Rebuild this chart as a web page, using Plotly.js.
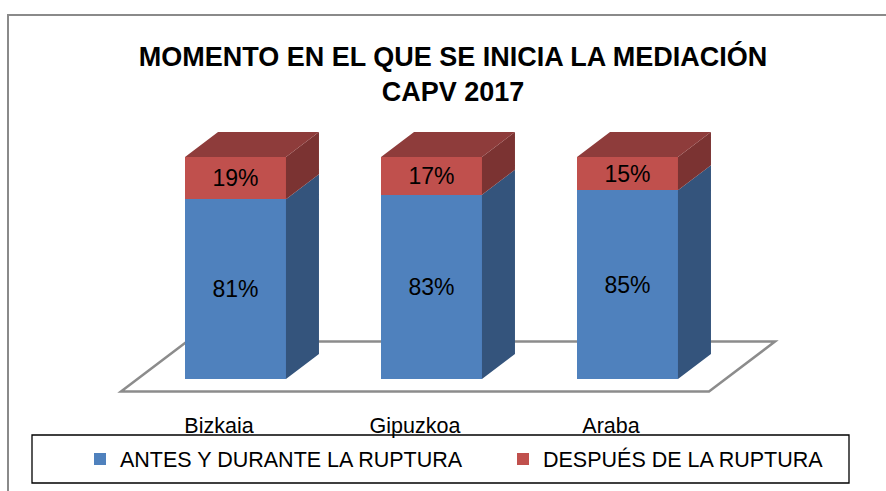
<!DOCTYPE html>
<html>
<head>
<meta charset="utf-8">
<script src="https://cdn.plot.ly/plotly-3.0.1.min.js"></script>
<style>html,body{margin:0;padding:0;background:#fff;}#chart{width:886px;height:491px;}</style>
</head>
<body>
<div id="chart"></div>
<script>
// ---- data ----
const categories = ['Bizkaia', 'Gipuzkoa', 'Araba'];
const seriesNames = ['ANTES Y DURANTE LA RUPTURA', 'DESPUÉS DE LA RUPTURA'];
const antes = [81, 83, 85];
const despues = [19, 17, 15];
const titleText = 'MOMENTO EN EL QUE SE INICIA LA MEDIACIÓN<br>CAPV 2017';

// ---- styling / geometry (pixels) ----
const W = 886, H = 491;
const M = {l: 110, r: 96, t: 120, b: 96, autoexpand: false};
const plotW = W - M.l - M.r, plotH = H - M.t - M.b;
const pxPerCat = 196, pxPerPct = 2.22;
const cat0Px = 235.5, basePx = 379;
const depthPx = {x: 33, y: 25};
const barW = 0.515;
const FONT = 'Liberation Sans, Arial, sans-serif';

const xRange = [(M.l - cat0Px) / pxPerCat, (W - M.r - cat0Px) / pxPerCat];
const yRange = [-(H - M.b - basePx) / pxPerPct, (basePx - M.t) / pxPerPct];
const dX = depthPx.x / pxPerCat, dY = depthPx.y / pxPerPct;

const xs = categories.map((_, i) => i);
const tops1 = antes.slice();
const tops2 = antes.map((v, i) => v + despues[i]);

function sideFaces(bottoms, tops) {
  const X = [], Y = [];
  xs.forEach((x, i) => {
    const r = x + barW / 2;
    X.push(r, r + dX, r + dX, r, r, null);
    Y.push(bottoms[i], bottoms[i] + dY, tops[i] + dY, tops[i], bottoms[i], null);
  });
  return {X, Y};
}
function topFaces(tops) {
  const X = [], Y = [];
  xs.forEach((x, i) => {
    const l = x - barW / 2, r = x + barW / 2;
    X.push(l, l + dX, r + dX, r, l, null);
    Y.push(tops[i], tops[i] + dY, tops[i] + dY, tops[i], tops[i], null);
  });
  return {X, Y};
}
function faceTrace(f, color) {
  return {type: 'scatter', mode: 'lines', x: f.X, y: f.Y, fill: 'toself', fillcolor: color,
          line: {width: 0, color: color}, hoverinfo: 'skip', showlegend: false};
}

const side1 = sideFaces(antes.map(() => 0), tops1);
const side2 = sideFaces(tops1, tops2);
const top2 = topFaces(tops2);

const traces = [
  {type: 'bar', name: seriesNames[0], x: xs, y: antes, width: barW, legendwidth: 378,
   marker: {color: '#4F81BD', line: {width: 0}},
   texttemplate: '%{y}%', textposition: 'inside', insidetextanchor: 'middle',
   textfont: {family: FONT, size: 23, color: '#000'}, hoverinfo: 'y'},
  {type: 'bar', name: seriesNames[1], x: xs, y: despues, width: barW,
   marker: {color: '#C0504D', line: {width: 0}},
   texttemplate: '%{y}%', textposition: 'inside', insidetextanchor: 'middle',
   textfont: {family: FONT, size: 23, color: '#000'}, hoverinfo: 'y'},
  faceTrace(side1, '#34547C'),
  faceTrace(side2, '#7B3332'),
  faceTrace(top2, '#8E3C3B')
];

// floor (3D base) from the axis extent and the depth vector
const fx0 = -0.5, fx1 = categories.length - 0.5;
const fz0 = -0.5, fz1 = 1.5;
const floorPath = 'M' + (fx0 + fz0 * dX) + ',' + (fz0 * dY) +
  ' L' + (fx1 + fz0 * dX) + ',' + (fz0 * dY) +
  ' L' + (fx1 + fz1 * dX) + ',' + (fz1 * dY) +
  ' L' + (fx0 + fz1 * dX) + ',' + (fz1 * dY) + ' Z';

function pxX(px) { return (px - M.l) / plotW; }
function pxY(py) { return (H - M.b - py) / plotH; }

const layout = {
  width: W, height: H,
  margin: M,
  paper_bgcolor: '#fff', plot_bgcolor: 'rgba(0,0,0,0)',
  barmode: 'stack',
  showlegend: true,
  title: {text: titleText, font: {family: FONT, size: 27, weight: 'bold', color: '#000'},
          xref: 'container', x: 453 / W, xanchor: 'center',
          yref: 'container', y: 1 - 66 / H, yanchor: 'top'},
  xaxis: {range: xRange, tickvals: xs.map(x => x + fz0 * dX), ticktext: categories,
          showgrid: false, zeroline: false, showline: false, ticks: '', ticklabelstandoff: 15,
          tickfont: {family: FONT, size: 21.5, color: '#000'}, fixedrange: true},
  yaxis: {range: yRange, visible: false, showgrid: false, zeroline: false, fixedrange: true},
  legend: {orientation: 'h', xref: 'paper', yref: 'paper', x: pxX(80), xanchor: 'left',
           y: pxY(459), yanchor: 'middle', traceorder: 'normal',
           font: {family: FONT, size: 21.5, color: '#000'}, bgcolor: 'rgba(0,0,0,0)'},
  shapes: [
    {type: 'path', xref: 'x', yref: 'y', path: floorPath, layer: 'below',
     fillcolor: '#fff', line: {color: '#8C8C8C', width: 2.5}},
    {type: 'rect', xref: 'paper', yref: 'paper', x0: pxX(32), x1: pxX(849), y0: pxY(483), y1: pxY(435),
     line: {color: '#000', width: 1.3}, fillcolor: 'rgba(0,0,0,0)', layer: 'above'},
    {type: 'rect', xref: 'paper', yref: 'paper', x0: pxX(8), x1: pxX(900), y0: pxY(510), y1: pxY(15),
     line: {color: '#8A8A8A', width: 2}, fillcolor: 'rgba(0,0,0,0)', layer: 'below'}
  ]
};

Plotly.newPlot('chart', traces, layout, {displayModeBar: false, staticPlot: true});
</script>
</body>
</html>
